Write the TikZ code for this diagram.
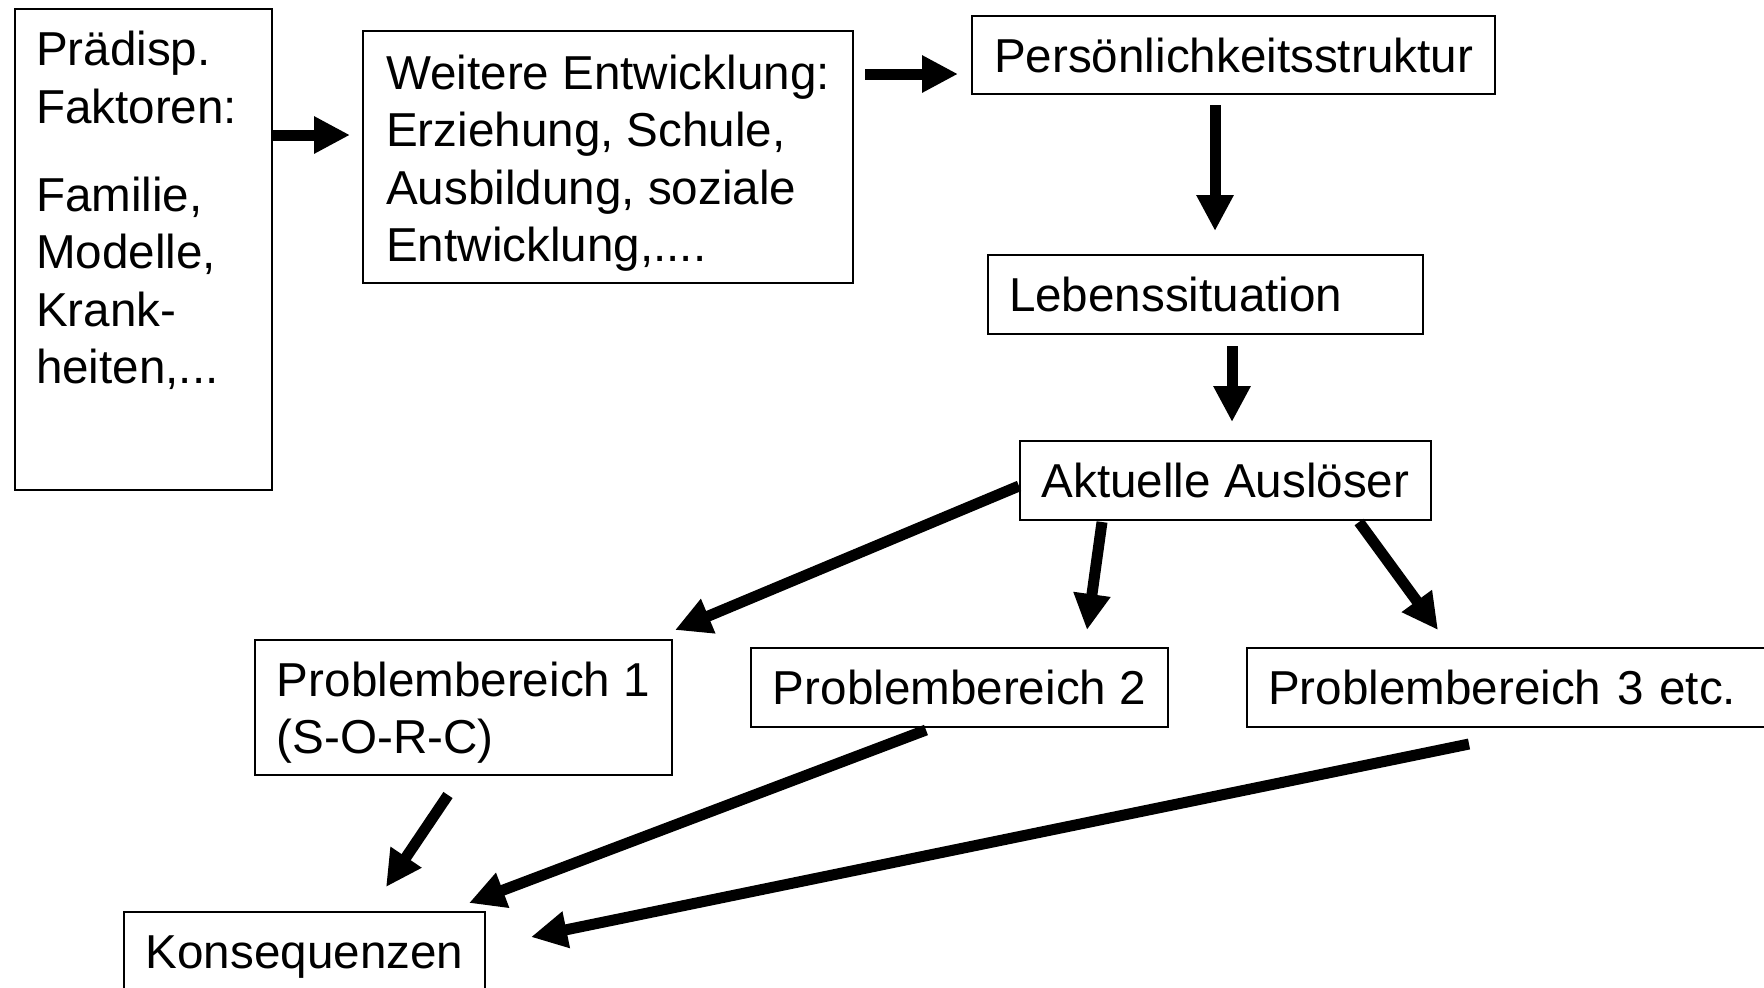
\documentclass[tikz,border=0pt]{standalone}
\usepackage{fontspec}
\setmainfont{Liberation Sans}
\usetikzlibrary{calc,arrows.meta}
\begin{document}
\begin{tikzpicture}[x=0.5pt,y=-0.5pt]
            \tikzstyle{box}=[draw=black,line width=1pt,anchor=north west,inner xsep=10.5pt,inner ysep=0pt,align=left,font=\fontsize{23.8pt}{28.7pt}\selectfont]
            \tikzstyle{pfeil}=[line width=5.5pt,-{Triangle[length=18pt,width=17.5pt]}]
            \clip (0,0) rectangle (1764,987);
            \node[box,minimum width=128.5pt,minimum height=240.5pt,text width=107.5pt] (faktoren) at (14,8) {Prädisp.\\Faktoren:\\[15.5pt]Familie,\\Modelle,\\Krank-\\heiten,...\rule[-42pt]{0pt}{42pt}};
            \node[box,minimum width=245pt,minimum height=126pt] (entwicklung) at (362,30) {\rule{0pt}{23.5pt}Weitere Entwicklung:\\Erziehung, Schule,\\Ausbildung, soziale\\Entwicklung,....};
            \node[box,minimum width=261.5pt,minimum height=39pt] (persoenlichkeit) at (971,15) {Persönlichkeitsstruktur};
            \node[box,minimum width=217.5pt,minimum height=39.5pt,text width=196.5pt] (lebenssituation) at (987,254) {Lebenssituation};
            \node[box,minimum width=205.5pt,minimum height=39.5pt] (ausloeser) at (1019,440) {Aktuelle Auslöser};
            \node[box,minimum width=208.5pt,minimum height=67.5pt] (problem1) at (254,639) {\rule{0pt}{22.5pt}Problembereich 1\\(S-O-R-C)};
            \node[box,minimum width=208.5pt,minimum height=39.5pt] (problem2) at (750,647) {Problembereich 2};
            \node[box,minimum width=280pt,minimum height=39.5pt,text width=259pt] (problem3) at (1246,647) {Problembereich 3 etc.};
            \node[box,minimum width=180.5pt,minimum height=50pt] (konsequenzen) at (123,911) {Konsequenzen\rule[-10pt]{0pt}{10pt}};
            \draw[pfeil] ($(faktoren.north east)+(0,127)$) -- ($(entwicklung.north west)+(-12,105)$);
            \draw[pfeil] ($(entwicklung.north east)+(11,44)$) -- ($(persoenlichkeit.north west)+(-13,59)$);
            \draw[pfeil] ($(persoenlichkeit.south west)+(244,10)$) -- ($(lebenssituation.north west)+(228,-23)$);
            \draw[pfeil] ($(lebenssituation.south west)+(245,11)$) -- ($(ausloeser.north west)+(213,-18)$);
            \draw[pfeil] ($(ausloeser.north west)+(0,46)$) -- ($(problem1.north east)+(2,-9)$);
            \draw[pfeil] ($(ausloeser.south west)+(83,1)$) -- ($(problem2.north west)+(337,-17)$);
            \draw[pfeil] ($(ausloeser.south west)+(340,1)$) -- ($(problem3.north west)+(192,-17)$);
            \draw[pfeil] ($(problem1.south west)+(194,19)$) -- ($(konsequenzen.north west)+(263,-24)$);
            \draw[pfeil] ($(problem2.south west)+(176,2)$) -- ($(konsequenzen.north east)+(-17,-8)$);
            \draw[pfeil] ($(problem3.south west)+(223,16)$) -- ($(konsequenzen.north east)+(45,26)$);
        \end{tikzpicture}
\end{document}
